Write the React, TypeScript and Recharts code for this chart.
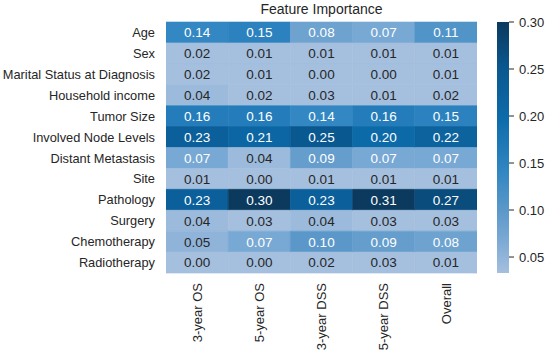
import React from 'react';
import { BarChart, Bar, XAxis, YAxis, Cell, LabelList } from 'recharts';

const features = [
  'Age',
  'Sex',
  'Marital Status at Diagnosis',
  'Household income',
  'Tumor Size',
  'Involved Node Levels',
  'Distant Metastasis',
  'Site',
  'Pathology',
  'Surgery',
  'Chemotherapy',
  'Radiotherapy',
];
const models = ['3-year OS', '5-year OS', '3-year DSS', '5-year DSS', 'Overall'];
const os3 = [0.14, 0.02, 0.02, 0.04, 0.16, 0.23, 0.07, 0.01, 0.23, 0.04, 0.05, 0.0];
const os5 = [0.15, 0.01, 0.01, 0.02, 0.16, 0.21, 0.04, 0.0, 0.3, 0.03, 0.07, 0.0];
const dss3 = [0.08, 0.01, 0.0, 0.03, 0.14, 0.25, 0.09, 0.01, 0.23, 0.04, 0.1, 0.02];
const dss5 = [0.07, 0.01, 0.0, 0.01, 0.16, 0.2, 0.07, 0.01, 0.31, 0.03, 0.09, 0.03];
const overall = [0.11, 0.01, 0.01, 0.02, 0.15, 0.22, 0.07, 0.01, 0.27, 0.03, 0.08, 0.01];
const columns = [os3, os5, dss3, dss5, overall];
const colorbarTicks = [0.05, 0.1, 0.15, 0.2, 0.25, 0.3];
const colorMin = 0.033;
const colorMax = 0.3;
const title = 'Feature Importance';

const FONT = '"Liberation Sans", Arial, sans-serif';
const TEXT = '#262626';

const colorStops: [number, string][] = [
  [0.033, '#a5bfde'],
  [0.07, '#78a8d4'],
  [0.1, '#5b98c9'],
  [0.14, '#3387c2'],
  [0.17, '#1d78b6'],
  [0.2, '#0d6aa8'],
  [0.25, '#0a5890'],
  [0.3, '#0b3a5e'],
];

function hexToRgb(h: string) {
  const n = parseInt(h.slice(1), 16);
  return [(n >> 16) & 255, (n >> 8) & 255, n & 255];
}
function colorFor(v: number) {
  const x = Math.max(colorMin, Math.min(colorMax, v));
  for (let i = 0; i < colorStops.length - 1; i++) {
    const [a, ca] = colorStops[i];
    const [b, cb] = colorStops[i + 1];
    if (x <= b) {
      const t = (x - a) / (b - a);
      const ra = hexToRgb(ca);
      const rb = hexToRgb(cb);
      const c = ra.map((q, k) => Math.round(q + (rb[k] - q) * t));
      return `rgb(${c[0]},${c[1]},${c[2]})`;
    }
  }
  return colorStops[colorStops.length - 1][1];
}

const rows = features.map((f, i) => {
  const r: any = { feature: f };
  columns.forEach((c, j) => {
    r['v' + j] = c[i];
    r['w' + j] = 1;
  });
  return r;
});

const colTicks = models.map((_, j) => j + 0.5);

const CellLabel = (props: any) => {
  const { x, y, width, height, value } = props;
  return (
    <text
      x={x + width / 2}
      y={y + height / 2}
      dy="0.36em"
      textAnchor="middle"
      fontSize={13.5}
      fontFamily={FONT}
      fill={value >= 0.06 ? '#ffffff' : TEXT}
    >
      {Number(value).toFixed(2)}
    </text>
  );
};

const YTick = (props: any) => {
  const { x, y, payload } = props;
  return (
    <text
      x={x}
      y={y}
      dy="0.36em"
      textAnchor="end"
      fontSize={12.8}
      fontFamily={FONT}
      fill={TEXT}
    >
      {payload.value}
    </text>
  );
};

const XTick = (props: any) => {
  const { x, y, payload } = props;
  const label = models[Math.floor(payload.value)];
  return (
    <text
      x={0}
      y={0}
      transform={`translate(${x},${y}) rotate(-90)`}
      dy="0.36em"
      textAnchor="end"
      fontSize={13}
      fontFamily={FONT}
      fill={TEXT}
    >
      {label}
    </text>
  );
};

export default function App() {
  return (
    <div
      style={{
        position: 'absolute',
        left: 0,
        top: 0,
        width: 550,
        height: 354,
        background: '#ffffff',
        fontFamily: FONT,
      }}
    >
      <div
        style={{
          position: 'absolute',
          left: 166,
          width: 311,
          top: 1,
          textAlign: 'center',
          fontSize: 14,
          color: TEXT,
          fontFamily: FONT,
        }}
      >
        {title}
      </div>
      <div style={{ position: 'absolute', left: 0, top: 0 }}>
        <BarChart
          width={550}
          height={354}
          data={rows}
          layout="vertical"
          margin={{ top: 22, right: 73, bottom: 0, left: 0 }}
          barCategoryGap={0}
          barGap={0}
        >
          <YAxis
            type="category"
            dataKey="feature"
            width={166}
            tickLine={false}
            axisLine={false}
            tickSize={0}
            tickMargin={11}
            interval={0}
            tick={<YTick />}
          />
          <XAxis
            type="number"
            domain={[0, models.length]}
            ticks={colTicks}
            height={81}
            tickLine={false}
            axisLine={false}
            tickSize={0}
            tickMargin={10}
            interval={0}
            tick={<XTick />}
            allowDataOverflow
          />
          {models.map((m, j) => (
            <Bar
              key={m}
              dataKey={'w' + j}
              stackId="a"
              isAnimationActive={false}
            >
              {rows.map((r, i) => (
                <Cell
                  key={i}
                  fill={colorFor(r['v' + j])}
                  stroke={colorFor(r['v' + j])}
                  strokeWidth={0.6}
                />
              ))}
              <LabelList dataKey={'v' + j} content={<CellLabel />} />
            </Bar>
          ))}
        </BarChart>
      </div>
      <div style={{ position: 'absolute', left: 0, top: 0 }}>
        <BarChart
          width={550}
          height={354}
          data={[{ name: 'cb', v: colorMax }]}
          margin={{ top: 22, right: 0, bottom: 81, left: 497 }}
          barCategoryGap={0}
        >
          <defs>
            <linearGradient id="cbgrad" x1="0" y1="1" x2="0" y2="0">
              {colorStops.map(([v, c]) => (
                <stop
                  key={v}
                  offset={`${((v - colorMin) / (colorMax - colorMin)) * 100}%`}
                  stopColor={c}
                />
              ))}
            </linearGradient>
          </defs>
          <XAxis dataKey="name" type="category" hide />
          <YAxis
            orientation="right"
            type="number"
            domain={[colorMin, colorMax]}
            ticks={colorbarTicks}
            allowDataOverflow
            width={41}
            axisLine={false}
            tickSize={5}
            tickMargin={5}
            tickLine={{ stroke: TEXT }}
            tickFormatter={(v: number) => v.toFixed(2)}
            tick={{ fontSize: 13, fill: TEXT, fontFamily: FONT }}
          />
          <Bar dataKey="v" fill="url(#cbgrad)" isAnimationActive={false} />
        </BarChart>
      </div>
    </div>
  );
}
